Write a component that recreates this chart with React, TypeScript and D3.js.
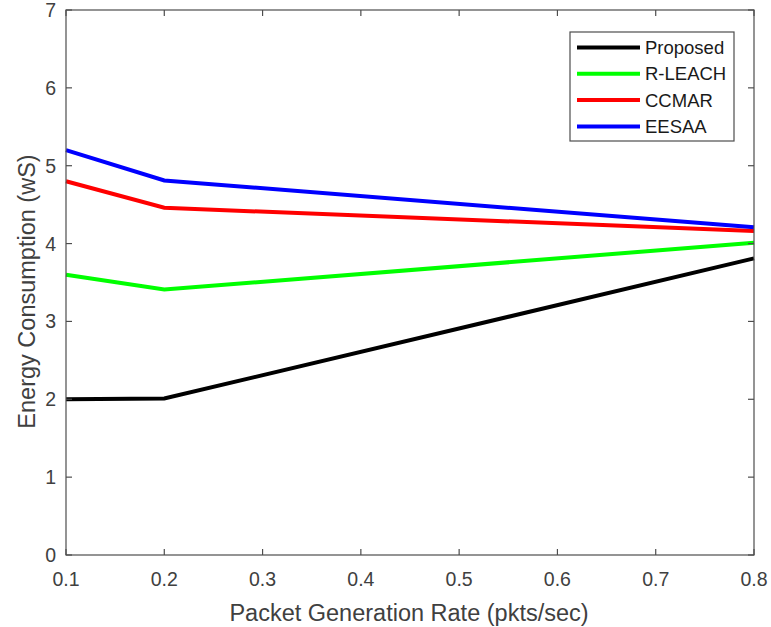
import React from "react";
import * as d3 from "d3";

const xValues = [0.1, 0.2, 0.8];
const seriesNames = ["Proposed", "R-LEACH", "CCMAR", "EESAA"];
const seriesColors = ["#000000", "#00ff00", "#ff0000", "#0000ff"];
const proposed = [2.0, 2.01, 3.81];
const rleach = [3.6, 3.41, 4.01];
const ccmar = [4.8, 4.46, 4.16];
const eesaa = [5.2, 4.81, 4.21];
const xTicks = [0.1, 0.2, 0.3, 0.4, 0.5, 0.6, 0.7, 0.8];
const yTicks = [0, 1, 2, 3, 4, 5, 6, 7];

const W = 771;
const H = 627;
const left = 66, right = 754, top = 10, bottom = 555;
const font = "'Liberation Sans', Arial, sans-serif";
const axisColor = "#4d4d4d";
const textColor = "#404040";

export default function App() {
  const x = d3.scaleLinear().domain([0.1, 0.8]).range([left, right]);
  const y = d3.scaleLinear().domain([0, 7]).range([bottom, top]);
  const line = d3
    .line<number>()
    .x((_, i) => x(xValues[i]))
    .y((d) => y(d));
  const allSeries = [proposed, rleach, ccmar, eesaa];
  const tl = 6;
  const lgX = 570, lgY = 32, lgW = 164, lgH = 109;
  return (
    <svg width={W} height={H} style={{ position: "absolute", left: 0, top: 0, background: "#fff" }}>
      <rect x={0} y={0} width={W} height={H} fill="#fff" />
      {allSeries.map((s, i) => (
        <path key={i} d={line(s) || ""} fill="none" stroke={seriesColors[i]} strokeWidth={4} strokeLinejoin="miter" />
      ))}
      <rect x={left} y={top} width={right - left} height={bottom - top} fill="none" stroke={axisColor} strokeWidth={1.2} />
      {xTicks.map((t) => (
        <g key={"x" + t}>
          <line x1={x(t)} x2={x(t)} y1={bottom} y2={bottom - tl} stroke={axisColor} strokeWidth={1.2} />
          <line x1={x(t)} x2={x(t)} y1={top} y2={top + tl} stroke={axisColor} strokeWidth={1.2} />
          <text x={x(t)} y={586} textAnchor="middle" fontFamily={font} fontSize={19.5} fill={textColor}>
            {t.toFixed(1)}
          </text>
        </g>
      ))}
      {yTicks.map((t) => (
        <g key={"y" + t}>
          <line x1={left} x2={left + tl} y1={y(t)} y2={y(t)} stroke={axisColor} strokeWidth={1.2} />
          <line x1={right} x2={right - tl} y1={y(t)} y2={y(t)} stroke={axisColor} strokeWidth={1.2} />
          <text x={56} y={y(t) + 7} textAnchor="end" fontFamily={font} fontSize={19.5} fill={textColor}>
            {t}
          </text>
        </g>
      ))}
      <text x={409} y={621} textAnchor="middle" fontFamily={font} fontSize={23.5} fill={textColor}>
        Packet Generation Rate (pkts/sec)
      </text>
      <text
        transform={`translate(35, 291.5) rotate(-90)`}
        textAnchor="middle"
        fontFamily={font}
        fontSize={23.5}
        fill={textColor}
      >
        Energy Consumption (wS)
      </text>
      <rect x={lgX} y={lgY} width={lgW} height={lgH} fill="#fff" stroke={axisColor} strokeWidth={1.2} />
      {seriesNames.map((n, i) => {
        const yy = 47.5 + i * 26.3;
        return (
          <g key={n}>
            <line x1={577} x2={640} y1={yy} y2={yy} stroke={seriesColors[i]} strokeWidth={4} />
            <text x={645} y={yy + 6.5} fontFamily={font} fontSize={18.5} fill="#1a1a1a">
              {n}
            </text>
          </g>
        );
      })}
    </svg>
  );
}
